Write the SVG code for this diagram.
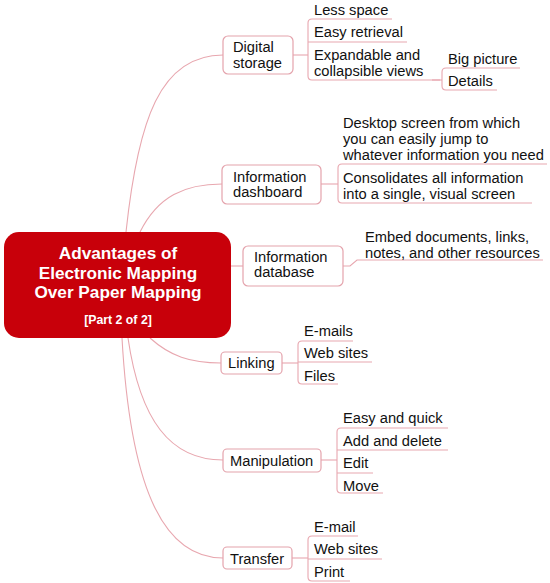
<svg xmlns="http://www.w3.org/2000/svg" width="550" height="583" viewBox="0 0 550 583">
<style>
.bg{fill:#ffffff}
.box{fill:#ffffff;stroke:#E4A3AC;stroke-width:1.2}
.ln{fill:none;stroke:#E8A7AF;stroke-width:1.1}
.t{font-family:"Liberation Sans",Arial,sans-serif;font-size:14.7px;fill:#111111}
.ct{font-family:"Liberation Sans",Arial,sans-serif;font-weight:bold;fill:#ffffff;text-anchor:middle}
</style>
<rect class="bg" x="0" y="0" width="550" height="583"/>
<g id="connectors">
<path class="ln" d="M126,232 C138,120 160,55 223,55"/>
<path class="ln" d="M140,232 C158,196 185,184 222,184"/>
<path class="ln" d="M231,266 H243"/>
<path class="ln" d="M150,338 C170,356 190,363 221,363"/>
<path class="ln" d="M128,338 C140,420 170,460 223,460"/>
<path class="ln" d="M122,338 C130,480 160,558 223,558"/>
<path class="ln" d="M293,55 H308"/>
<path class="ln" d="M392,19 H312 Q308,19 308,23 V76 Q308,80 312,80 H440"/>
<path class="ln" d="M308,42 H407"/>
<path class="ln" d="M432,80 H442"/>
<path class="ln" d="M520,68 H446 Q442,68 442,72 V86 Q442,90 446,90 H497"/>
<path class="ln" d="M321,184 H338"/>
<path class="ln" d="M547,164 H342 Q338,164 338,168 V199 Q338,203 342,203 H532"/>
<path class="ln" d="M343,266 H350 L357,260 H543"/>
<path class="ln" d="M282,363 H298"/>
<path class="ln" d="M353,341 H302 Q298,341 298,345 V380 Q298,384 302,384 H338"/>
<path class="ln" d="M298,362 H372"/>
<path class="ln" d="M321,460 H337"/>
<path class="ln" d="M448,428 H341 Q337,428 337,432 V489 Q337,493 341,493 H383"/>
<path class="ln" d="M337,450 H448"/>
<path class="ln" d="M337,473 H373"/>
<path class="ln" d="M292,558 H308"/>
<path class="ln" d="M358,536 H312 Q308,536 308,540 V577 Q308,581 312,581 H350"/>
<path class="ln" d="M308,559 H382"/>
</g>
<g id="central">
<rect x="4" y="232" width="227" height="106" rx="15" fill="#C8000A"/>
<text class="ct" x="118" y="259" font-size="17.2">Advantages of</text>
<text class="ct" x="118" y="279" font-size="17.2">Electronic Mapping</text>
<text class="ct" x="118" y="298" font-size="17.2">Over Paper Mapping</text>
<text class="ct" x="118" y="324" font-size="12.3">[Part 2 of 2]</text>
</g>
<g id="digital-storage">
<rect class="box" x="223" y="36" width="70" height="38" rx="5"/>
<text class="t" x="233" y="52">Digital</text>
<text class="t" x="233" y="68">storage</text>
</g>
<g id="less-space"><text class="t" x="314" y="15">Less space</text></g>
<g id="easy-retrieval"><text class="t" x="314" y="37">Easy retrieval</text></g>
<g id="expandable"><text class="t" x="314" y="60">Expandable and</text><text class="t" x="314" y="76">collapsible views</text></g>
<g id="big-picture"><text class="t" x="448" y="64">Big picture</text></g>
<g id="details"><text class="t" x="448" y="86">Details</text></g>
<g id="information-dashboard">
<rect class="box" x="222" y="165" width="99" height="39" rx="5"/>
<text class="t" x="233" y="182">Information</text>
<text class="t" x="233" y="197">dashboard</text>
</g>
<g id="desktop-screen"><text class="t" x="343" y="128">Desktop screen from which</text><text class="t" x="343" y="144">you can easily jump to</text><text class="t" x="343" y="160">whatever information you need</text></g>
<g id="consolidates"><text class="t" x="343" y="183">Consolidates all information</text><text class="t" x="343" y="199">into a single, visual screen</text></g>
<g id="information-database">
<rect class="box" x="243" y="246" width="100" height="40" rx="5"/>
<text class="t" x="254" y="262">Information</text>
<text class="t" x="254" y="277">database</text>
</g>
<g id="embed"><text class="t" x="365" y="242">Embed documents, links,</text><text class="t" x="365" y="258">notes, and other resources</text></g>
<g id="linking">
<rect class="box" x="221" y="352" width="61" height="22" rx="4"/>
<text class="t" x="228" y="368">Linking</text>
</g>
<g id="e-mails"><text class="t" x="304" y="336">E-mails</text></g>
<g id="web-sites-1"><text class="t" x="304" y="358">Web sites</text></g>
<g id="files"><text class="t" x="304" y="381">Files</text></g>
<g id="manipulation">
<rect class="box" x="223" y="449" width="98" height="23" rx="4"/>
<text class="t" x="230" y="466">Manipulation</text>
</g>
<g id="easy-quick"><text class="t" x="343" y="423">Easy and quick</text></g>
<g id="add-delete"><text class="t" x="343" y="446">Add and delete</text></g>
<g id="edit"><text class="t" x="343" y="468">Edit</text></g>
<g id="move"><text class="t" x="343" y="491">Move</text></g>
<g id="transfer">
<rect class="box" x="223" y="547" width="69" height="22" rx="4"/>
<text class="t" x="230" y="564">Transfer</text>
</g>
<g id="e-mail"><text class="t" x="314" y="532">E-mail</text></g>
<g id="web-sites-2"><text class="t" x="314" y="554">Web sites</text></g>
<g id="print"><text class="t" x="314" y="577">Print</text></g>
</svg>
